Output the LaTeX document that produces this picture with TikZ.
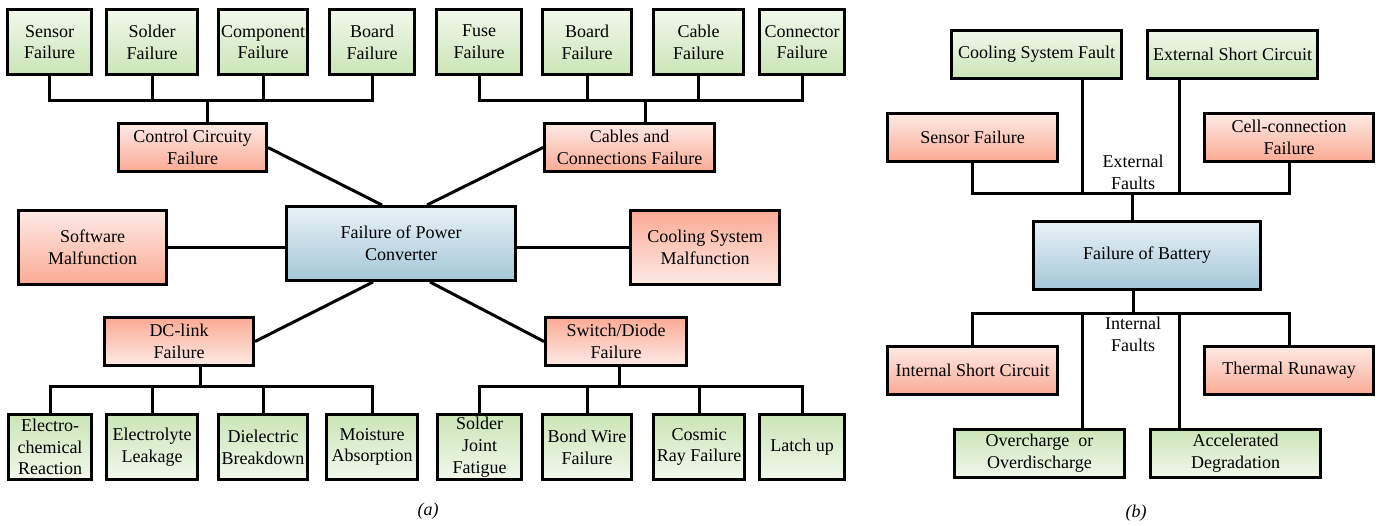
\documentclass[tikz,border=0pt]{standalone}
\usepackage{fontspec}
\setmainfont{Liberation Serif}
\usetikzlibrary{calc}
\definecolor{grnDk}{RGB}{203,229,182}
\definecolor{grnLt}{RGB}{241,248,236}
\definecolor{redDk}{RGB}{251,170,148}
\definecolor{redLt}{RGB}{253,234,229}
\definecolor{bluDk}{RGB}{163,199,216}
\definecolor{bluLt}{RGB}{233,242,246}
\begin{document}
\begin{tikzpicture}[x=1pt, y=-1pt, line width=3pt,
  font=\fontsize{18}{21.7}\selectfont,
  box/.style={draw, line width=3pt, inner sep=0pt, align=center, minimum height=#1},
  leafup/.style={box=65pt, top color=grnLt, bottom color=grnDk, minimum width=#1},
  leafdn/.style={box=65pt, top color=grnDk, bottom color=grnLt, minimum width=#1},
  causeup/.style={box=48pt, top color=redLt, bottom color=redDk, minimum width=#1},
  causedn/.style={box=48pt, top color=redDk, bottom color=redLt, minimum width=#1},
  root/.style={box=#1, top color=bluLt, bottom color=bluDk},
  batgrn/.style={box=48pt, minimum width=170pt, top color=#1},
  tag/.style={inner sep=0pt, align=center}]
\useasboundingbox (0,0) rectangle (1380,525);
% (a) power converter
\node[leafup=84pt] (senA) at (49.5,42) {Sensor\\Failure};
\node[leafup=91pt] (sol) at (152,42) {Solder\\Failure};
\node[leafup=89pt] (cmp) at (263,42) {Component\\Failure};
\node[leafup=85pt] (brdA) at (372,42) {Board\\Failure};
\node[leafup=85pt] (fus) at (479,42) {Fuse\\Failure};
\node[leafup=89pt] (brdB) at (587,42) {Board\\Failure};
\node[leafup=90pt] (cbl) at (698.5,42) {Cable\\Failure};
\node[leafup=85pt] (con) at (802,42) {Connector\\Failure};
\node[causeup=148pt] (ctrl) at (192.5,147.5) {Control Circuity\\Failure};
\node[causeup=170pt] (cab) at (629.5,147.5) {Cables and\\Connections Failure};
\node[box=74pt, minimum width=148pt, top color=redLt, bottom color=redDk] (soft) at (92.5,247.5) {Software\\Malfunction};
\node[root=74pt, minimum width=229pt] (conv) at (401,243.5) {Failure of Power\\Converter};
\node[box=74pt, minimum width=149pt, top color=redDk, bottom color=redLt] (cool) at (705,247.5) {Cooling System\\Malfunction};
\node[causedn=149pt] (dc) at (179,341.5) {DC-link\\Failure};
\node[causedn=141pt] (sw) at (616,341.5) {Switch/Diode\\Failure};
\node[leafdn=83pt] (ele) at (50,447) {Electro-\\chemical\\Reaction};
\node[leafdn=91pt] (lyt) at (152,447) {Electrolyte\\Leakage};
\node[leafdn=89pt] (die) at (263,447) {Dielectric\\Breakdown};
\node[leafdn=91pt] (moi) at (372,447) {Moisture\\Absorption};
\node[leafdn=84pt] (sjf) at (479.5,447) {Solder\\Joint\\Fatigue};
\node[leafdn=89pt] (bwf) at (587,447) {Bond Wire\\Failure};
\node[leafdn=91pt] (crf) at (699,447) {Cosmic\\Ray Failure};
\node[leafdn=85pt] (lat) at (802,447) {Latch up};
\node[tag, font=\fontsize{18}{21.7}\selectfont\itshape] (capA) at (428,511) {(a)};
\coordinate (ctrlbus) at (207,100);
\coordinate (cabbus) at (645,100);
\coordinate (dcbus) at (200,386);
\coordinate (swbus) at (619,386);
\draw (senA.south) |- (ctrlbus) -| (brdA.south);
\foreach \n in {sol,cmp} \draw (\n.south) -- (\n.south |- ctrlbus);
\draw (ctrlbus) -- (ctrlbus |- ctrl.north);
\draw (fus.south) |- (cabbus) -| (con.south);
\foreach \n in {brdB,cbl} \draw (\n.south) -- (\n.south |- cabbus);
\draw (cabbus) -- (cabbus |- cab.north);
\draw (ele.north) |- (dcbus) -| (moi.north);
\foreach \n in {lyt,die} \draw (\n.north) -- (\n.north |- dcbus);
\draw (dcbus) -- (dcbus |- dc.south);
\draw (sjf.north) |- (swbus) -| (lat.north);
\foreach \n in {bwf,crf} \draw (\n.north) -- (\n.north |- swbus);
\draw (swbus) -- (swbus |- sw.south);
\draw (ctrl.east) -- ([xshift=-19pt]conv.north);
\draw (cab.west) -- ([xshift=26pt]conv.north);
\draw (dc.east) -- ([xshift=-28pt]conv.south);
\draw (sw.west) -- ([xshift=29pt]conv.south);
\draw (soft.east) -- (soft.east -| conv.west);
\draw (cool.west -| conv.east) -- (cool.west);
% (b) battery
\node[batgrn=grnLt, bottom color=grnDk] (csf) at (1036.5,54) {Cooling System Fault};
\node[batgrn=grnLt, bottom color=grnDk] (esc) at (1232.5,54) {External Short Circuit};
\node[causeup=170pt] (senB) at (972.5,137.5) {Sensor Failure};
\node[causeup=169pt] (cell) at (1289,137.5) {Cell-connection\\Failure};
\node[root=68pt, minimum width=227pt] (bat) at (1147,255.5) {Failure of Battery};
\node[causeup=170pt] (isc) at (972.5,370.5) {Internal Short Circuit};
\node[causeup=169pt] (thr) at (1289,370.5) {Thermal Runaway};
\node[batgrn=grnDk, bottom color=grnLt] (ovc) at (1039.5,453.5) {Overcharge \ or\\Overdischarge};
\node[batgrn=grnDk, bottom color=grnLt] (acc) at (1235.5,453.5) {Accelerated\\Degradation};
\node[tag] (ext) at (1133,172) {External\\Faults};
\node[tag] (int) at (1133,334) {Internal\\Faults};
\node[tag, font=\fontsize{18}{21.7}\selectfont\itshape] (capB) at (1136,513) {(b)};
\coordinate (extbus) at (1132,193);
\coordinate (intbus) at (1133,313);
\coordinate (csfx) at (1082,0);
\coordinate (escx) at (1179,0);
\draw (senB.south) |- (extbus) -| (cell.south);
\draw (csfx |- csf.south) -- (csfx |- extbus);
\draw (escx |- esc.south) -- (escx |- extbus);
\draw (extbus) -- (extbus |- bat.north);
\draw (isc.north) |- (intbus) -| (thr.north);
\draw (csfx |- intbus) -- (csfx |- ovc.north);
\draw (escx |- intbus) -- (escx |- acc.north);
\draw (intbus) -- (intbus |- bat.south);
\end{tikzpicture}
\end{document}
